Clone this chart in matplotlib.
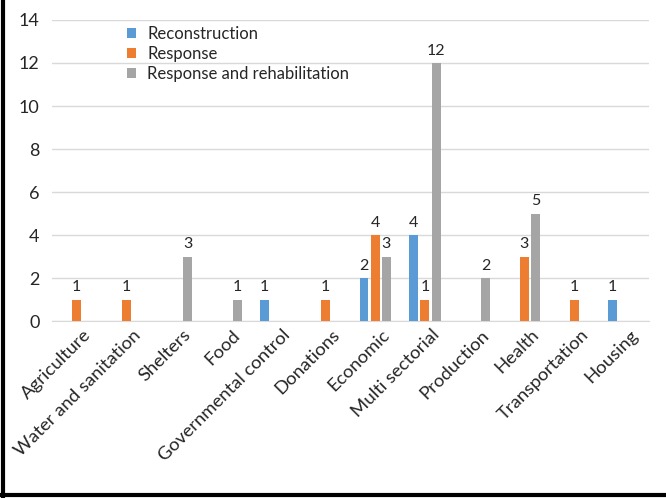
import numpy as np
import matplotlib.pyplot as plt
import matplotlib.transforms as mtransforms
from matplotlib.lines import Line2D

plt.rcParams['font.family'] = ['Lato', 'DejaVu Sans']

# Data
categories = ['Agriculture', 'Water and sanitation', 'Shelters', 'Food',
              'Governmental control', 'Donations', 'Economic', 'Multi sectorial',
              'Production', 'Health', 'Transportation', 'Housing']
reconstruction = [0, 0, 0, 0, 1, 0, 2, 4, 0, 0, 0, 1]
response = [1, 1, 0, 0, 0, 1, 4, 1, 0, 3, 1, 0]
resp_rehab = [0, 0, 3, 1, 0, 0, 3, 12, 2, 5, 0, 0]
series_names = ['Reconstruction', 'Response', 'Response and rehabilitation']
colors = ['#5B9BD5', '#ED7D31', '#A5A5A5']

fig = plt.figure(figsize=(6.66, 4.98), dpi=100)
ax = fig.add_axes([0.078, 0.355, 0.896, 0.605])

x = np.arange(len(categories))
width = 0.18
step = 0.225
for k, (vals, name, c) in enumerate(zip([reconstruction, response, resp_rehab], series_names, colors)):
    pos = x + (k - 1) * step
    bars = ax.bar(pos, vals, width=width, color=c, label=name, zorder=3)
    for b, v in zip(bars, vals):
        if v > 0:
            ax.text(b.get_x() + b.get_width() / 2, v + 0.25, str(v),
                    ha='center', va='bottom', fontsize=11.5, color='#262626')

ax.set_xlim(-0.5, len(categories) - 0.5)
ax.set_ylim(0, 14)
ax.set_yticks(range(0, 15, 2))
ax.yaxis.grid(True, color='#D9D9D9', linewidth=1, zorder=0)
ax.set_axisbelow(True)
for s in ['top', 'right', 'left']:
    ax.spines[s].set_visible(False)
ax.spines['bottom'].set_color('#D9D9D9')
ax.tick_params(axis='both', length=0, labelsize=13, labelcolor='#262626')
ax.tick_params(axis='y', pad=9)
ax.tick_params(axis='x', pad=4)
ax.set_xticks(x)
ax.set_xticklabels(categories, rotation=45, ha='right', rotation_mode='anchor',
                   fontsize=13.3)
shift = mtransforms.ScaledTranslation(6 / 100, 0, fig.dpi_scale_trans)
for lab in ax.get_xticklabels():
    lab.set_transform(lab.get_transform() + shift)

leg = ax.legend(loc='upper left', bbox_to_anchor=(0.1, 1.03), frameon=False,
                fontsize=12, handlelength=0.55, handleheight=0.55,
                handletextpad=0.7, labelspacing=0.25)
for t in leg.get_texts():
    t.set_color('#262626')

# black frame on left and bottom edges
fig.add_artist(Line2D([0.004, 0.004], [0, 1], transform=fig.transFigure,
                      color='black', linewidth=3))
fig.add_artist(Line2D([0, 1], [0.006, 0.006], transform=fig.transFigure,
                      color='black', linewidth=3))

fig.savefig('out.png', dpi=100)
